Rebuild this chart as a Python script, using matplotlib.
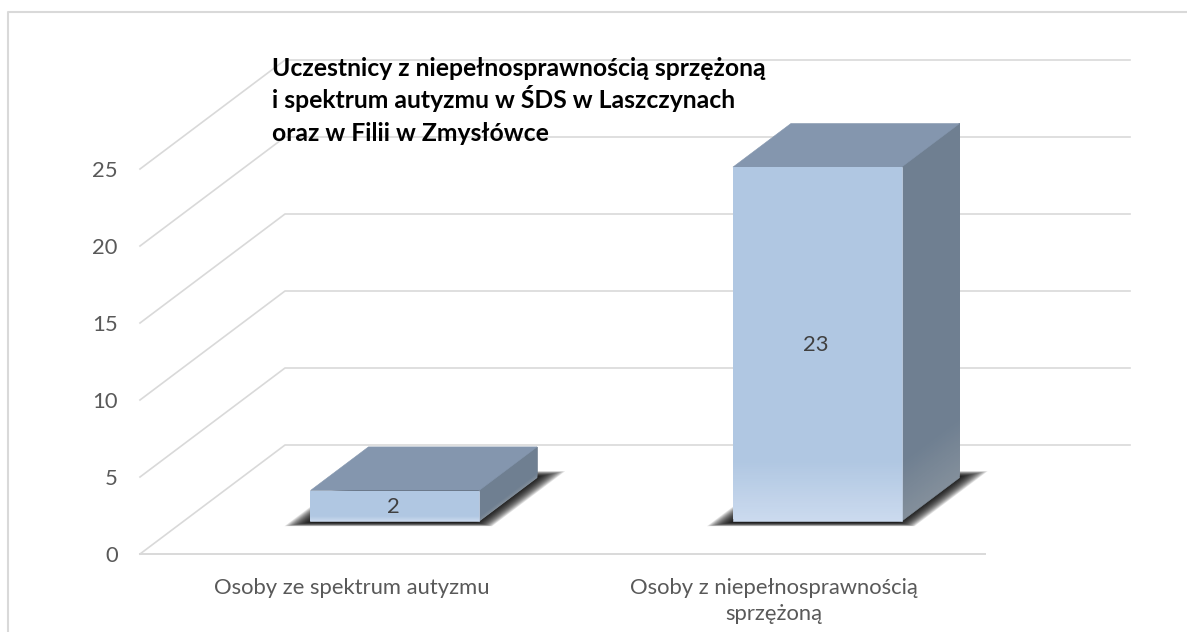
import numpy as np
import matplotlib
matplotlib.use("Agg")
import matplotlib.pyplot as plt
from matplotlib.patches import Polygon
from matplotlib.lines import Line2D
from matplotlib.colors import to_rgb

categories = ["Osoby ze spektrum autyzmu", "Osoby z niepełnosprawnością\nsprzężoną"]
values = [2, 23]
y_ticks = [0, 5, 10, 15, 20, 25]
title_lines = ["Uczestnicy z niepełnosprawnością sprzężoną",
               "i spektrum autyzmu w ŚDS w Laszczynach",
               "oraz w Filii w Zmysłówce"]

W, H = 1187, 632
plt.rcParams['font.family'] = ['Lato', 'DejaVu Sans']
fig = plt.figure(figsize=(W / 100, H / 100), dpi=100, facecolor='white')
ax = fig.add_axes([140 / W, 1 - 554 / H, 845 / W, 385 / H])
ax.set_xlim(-0.5, 1.5)
ax.set_ylim(0, 25)
ax.patch.set_visible(False)
for s in ax.spines.values():
    s.set_visible(False)

# oblique projection: full floor depth expressed in data units
DX = 145 / 422.5
DY = 109 / 15.4
BAR_W = 0.399
D0, D1 = 0.3, 0.7


def proj(x, y, d):
    return (x + d * DX, y + d * DY)


GRID = '#d9d9d9'
for v in y_ticks:
    pts = [(-0.5, v), proj(-0.5, v, 1), proj(1.5, v, 1)]
    ax.plot(*zip(*pts), color=GRID, lw=1.2, clip_on=False, zorder=1)
ax.plot([-0.5, 1.5], [0, 0], color=GRID, lw=1.4, clip_on=False, zorder=1)

ax.set_yticks(y_ticks)
ax.set_xticks(range(len(categories)))
ax.set_xticklabels(categories)
ax.tick_params(axis='both', length=0, labelcolor='#595959', labelsize=15.8)
ax.tick_params(axis='y', pad=16)
ax.tick_params(axis='x', pad=17)
for lab in ax.get_xticklabels():
    lab.set_linespacing(1.4)


def lerp(c1, c2, t):
    a, b = np.array(to_rgb(c1)), np.array(to_rgb(c2))
    return tuple(a + (b - a) * t)


def face(corners, color, lw=0.4):
    ax.add_patch(Polygon(corners, closed=True, fc=color,
                         ec=color if lw else 'none', lw=lw,
                         clip_on=False, zorder=4))


def grad_face(x0, x1, d0, d1, bottom, top, c_top, c_bot):
    """vertical face, lighter toward the bottom 17 % of its height"""
    h = top - bottom
    split = bottom + 0.17 * h
    steps = 30
    edges = np.linspace(bottom, split, steps + 1)
    for i in range(steps):
        col = lerp(c_bot, c_top, i / (steps - 1))
        face([proj(x0, edges[i], d0), proj(x1, edges[i], d1),
              proj(x1, top, d1), proj(x0, top, d0)], col,
             lw=0.4 if i == 0 else 0)


def shadow(xl, xr):
    layers = 20
    for t in np.linspace(0, 1, layers):
        left = xl - 0.046 + t * 0.056
        right = xr + 0.046 - t * 0.056
        d0 = D0 - 0.045 + t * 0.04
        d1 = D1 + 0.06 - t * 0.06
        corners = [proj(left, 0, d0), proj(right, 0, d0),
                   proj(right, 0, d1), proj(left, 0, d1)]
        ax.add_patch(Polygon(corners, closed=True, fc='black', ec='none',
                             alpha=0.11, clip_on=False, zorder=2))


for i, v in enumerate(values):
    xl, xr = i - BAR_W / 2, i + BAR_W / 2
    top = v
    shadow(xl, xr)
    # side and top faces
    grad_face(xr, xr, D0, D1, 0, top, '#6f7f91', '#838f9b')
    face([proj(xl, top, D0), proj(xr, top, D0),
          proj(xr, top, D1), proj(xl, top, D1)], '#8496ae')
    # front face
    grad_face(xl, xr, D0, D0, 0, top, '#b0c7e2', '#cbdaee')
    ax.annotate(str(v), xy=proj(i, top / 2, D0), xytext=(-1.2, -0.8),
                textcoords='offset points', ha='center', va='center',
                color='#404040', fontsize=15.8, zorder=5)

for line, base in zip(title_lines, [76, 108, 141]):
    fig.text(272 / W, 1 - base / H, line, ha='left', va='baseline',
             fontsize=17.8, fontweight='bold', color='black', zorder=10)

fig.add_artist(Line2D([8 / W, 8 / W, 1], [0, 1 - 12 / H, 1 - 12 / H],
                      color='#d9d9d9', lw=1.5, transform=fig.transFigure))

fig.savefig('out.png', dpi=100, facecolor='white')
